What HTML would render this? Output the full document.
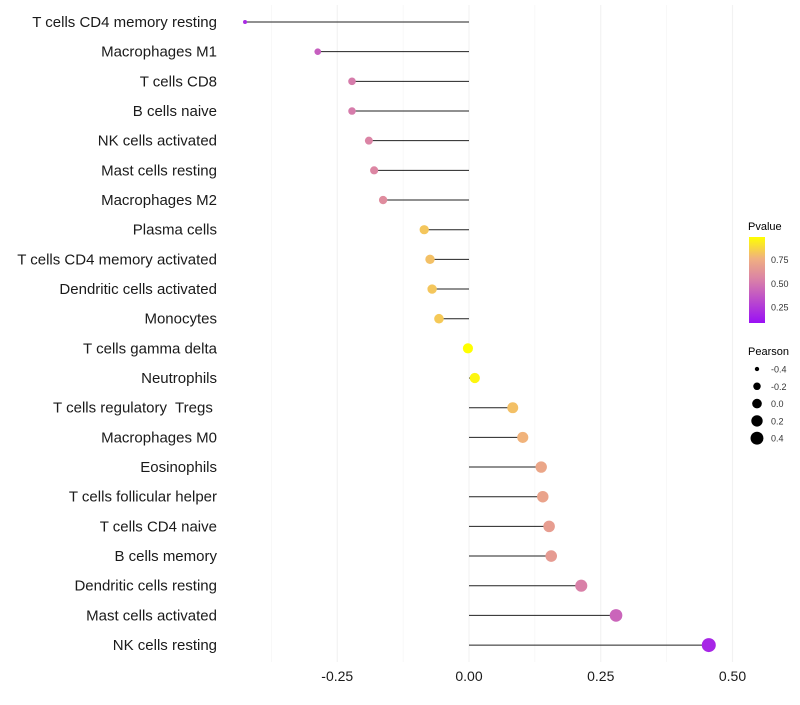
<!DOCTYPE html>
<html><head><meta charset="utf-8"><style>
body{margin:0;background:#fff;font-family:"Liberation Sans",sans-serif}
svg text{font-family:"Liberation Sans",sans-serif;white-space:pre}
</style></head><body>
<svg id="chart" width="800" height="700" xmlns="http://www.w3.org/2000/svg">
<defs><linearGradient id="pg" x1="0" y1="1" x2="0" y2="0">
<stop offset="0" stop-color="#9A10F5"/><stop offset="0.5" stop-color="#D980A8"/><stop offset="0.75" stop-color="#F0B080"/><stop offset="1" stop-color="#FFFF00"/></linearGradient></defs>
<g id="grid"></g><g id="marks"></g><g id="labels"></g><g id="xticks"></g>
<g>
<text x="748" y="230" font-size="11">Pvalue</text>
<rect x="749" y="237" width="16" height="86" fill="url(#pg)"/>
<g id="cbticks"></g>
<text x="748" y="355" font-size="11">Pearson</text>
<g id="sizeleg"></g>
</g>
</svg>
<script>
const categories=["T cells CD4 memory resting","Macrophages M1","T cells CD8","B cells naive","NK cells activated","Mast cells resting","Macrophages M2","Plasma cells","T cells CD4 memory activated","Dendritic cells activated","Monocytes","T cells gamma delta","Neutrophils","T cells regulatory  Tregs ","Macrophages M0","Eosinophils","T cells follicular helper","T cells CD4 naive","B cells memory","Dendritic cells resting","Mast cells activated","NK cells resting"];
const pearson=[-0.425,-0.287,-0.222,-0.222,-0.19,-0.18,-0.163,-0.085,-0.074,-0.07,-0.057,-0.002,0.011,0.083,0.102,0.137,0.14,0.152,0.156,0.213,0.279,0.455];
const pvalue=[0.12,0.35,0.48,0.48,0.52,0.53,0.56,0.82,0.8,0.82,0.83,1.0,0.97,0.8,0.76,0.7,0.68,0.65,0.64,0.5,0.38,0.1];
const xTicks=[-0.25,0,0.25,0.5];
const xTickLabels=["-0.25","0.00","0.25","0.50"];
const cbTicks=[0.25,0.5,0.75];
const sizeLegend=[-0.4,-0.2,0,0.2,0.4];
const NS="http://www.w3.org/2000/svg";
const x=v=>469+v*527;
const y=i=>22+i*29.67;
const r=v=>Math.sqrt(Math.max(1,25.7+51*v));
const cbY=p=>323-(p-0.08)/0.91*86;
const stops=[[0,[154,16,245]],[0.5,[217,128,168]],[0.75,[240,176,128]],[1,[255,255,0]]];
function col(p){p=Math.max(0,Math.min(1,p));for(let k=1;k<stops.length;k++){if(p<=stops[k][0]){const a=stops[k-1],b=stops[k],t=(p-a[0])/(b[0]-a[0]);return "rgb("+a[1].map((c,j)=>Math.round(c+(b[1][j]-c)*t)).join(",")+")";}}return "rgb(255,255,0)";}
function mk(tag,attrs,parent){const e=document.createElementNS(NS,tag);for(const k in attrs)e.setAttribute(k,attrs[k]);document.getElementById(parent).appendChild(e);return e;}
[-0.375,-0.25,-0.125,0,0.125,0.25,0.375,0.5].forEach(v=>{const l=mk("line",{x1:x(v),x2:x(v),y1:5,y2:662,stroke:"#f2f2f2","stroke-width":v*8%2===0?1.1:0.6},"grid");

});
categories.forEach((c,i)=>{
const s=mk("line",{x1:x(0),x2:x(pearson[i]),y1:y(i),y2:y(i),stroke:"#222","stroke-width":1},"marks");


const d=mk("circle",{cx:x(pearson[i]),cy:y(i),r:r(pearson[i]),fill:col(pvalue[i])},"marks");


const t=mk("text",{x:217,y:y(i)+5,"text-anchor":"end","font-size":15,fill:"#1a1a1a"},"labels");t.textContent=c;


});
xTicks.forEach((v,i)=>{const t=mk("text",{x:x(v),y:681,"text-anchor":"middle","font-size":14,fill:"#1a1a1a"},"xticks");t.textContent=xTickLabels[i];

});
cbTicks.forEach(p=>{const t=mk("text",{x:771,y:cbY(p)+3.5,"font-size":9,fill:"#333"},"cbticks");t.textContent=p.toFixed(2);

});
sizeLegend.forEach((v,i)=>{const cy=369+i*17.3;const c=mk("circle",{cx:757,cy:cy,r:r(v)*0.95,fill:"#000"},"sizeleg");


const t=mk("text",{x:771,y:cy+3.5,"font-size":9,fill:"#333"},"sizeleg");t.textContent=v.toFixed(1);

});
</script>
</body></html>
